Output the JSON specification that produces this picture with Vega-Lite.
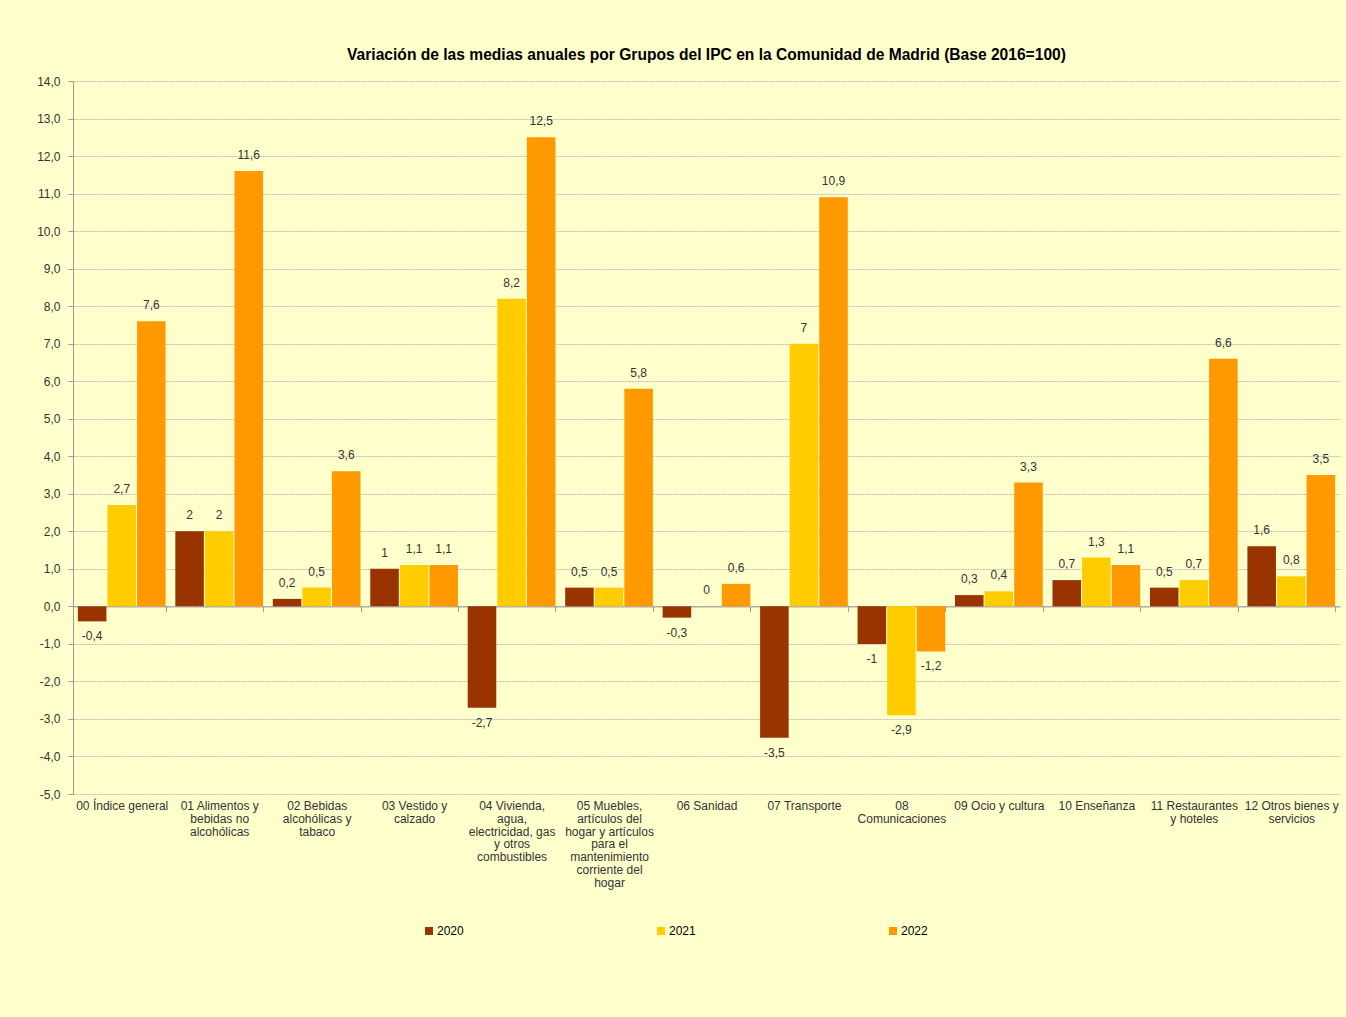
{
  "$schema": "https://vega.github.io/schema/vega-lite/v6.json",
  "autosize": {"type": "none"},
  "width": 1267,
  "height": 713,
  "padding": {"left": 73, "top": 81, "right": 6, "bottom": 223},
  "background": "#FFFFCC",
  "config": {
    "locale": {"number": {"decimal": ",", "thousands": ".", "grouping": [3], "currency": ["", " €"], "minus": "-"}},
    "font": "Liberation Sans",
    "view": {"stroke": null},
    "axis": {"labelFont": "Liberation Sans", "labelColor": "#333333", "labelFontSize": 12}
  },
  "title": {
    "text": "Variación de las medias anuales por Grupos del IPC en la Comunidad de Madrid (Base 2016=100)",
    "fontSize": 15.6,
    "fontWeight": "bold",
    "font": "Liberation Sans",
    "color": "#000000",
    "anchor": "middle",
    "offset": 11
  },
  "data": {
    "values": [
      {"grupo": "00 Índice general", "anio": "2020", "valor": -0.4},
      {"grupo": "00 Índice general", "anio": "2021", "valor": 2.7},
      {"grupo": "00 Índice general", "anio": "2022", "valor": 7.6},
      {"grupo": "01 Alimentos y bebidas no alcohólicas", "anio": "2020", "valor": 2},
      {"grupo": "01 Alimentos y bebidas no alcohólicas", "anio": "2021", "valor": 2},
      {"grupo": "01 Alimentos y bebidas no alcohólicas", "anio": "2022", "valor": 11.6},
      {"grupo": "02 Bebidas alcohólicas y tabaco", "anio": "2020", "valor": 0.2},
      {"grupo": "02 Bebidas alcohólicas y tabaco", "anio": "2021", "valor": 0.5},
      {"grupo": "02 Bebidas alcohólicas y tabaco", "anio": "2022", "valor": 3.6},
      {"grupo": "03 Vestido y calzado", "anio": "2020", "valor": 1},
      {"grupo": "03 Vestido y calzado", "anio": "2021", "valor": 1.1},
      {"grupo": "03 Vestido y calzado", "anio": "2022", "valor": 1.1},
      {"grupo": "04 Vivienda, agua, electricidad, gas y otros combustibles", "anio": "2020", "valor": -2.7},
      {"grupo": "04 Vivienda, agua, electricidad, gas y otros combustibles", "anio": "2021", "valor": 8.2},
      {"grupo": "04 Vivienda, agua, electricidad, gas y otros combustibles", "anio": "2022", "valor": 12.5},
      {"grupo": "05 Muebles, artículos del hogar y artículos para el mantenimiento corriente del hogar", "anio": "2020", "valor": 0.5},
      {"grupo": "05 Muebles, artículos del hogar y artículos para el mantenimiento corriente del hogar", "anio": "2021", "valor": 0.5},
      {"grupo": "05 Muebles, artículos del hogar y artículos para el mantenimiento corriente del hogar", "anio": "2022", "valor": 5.8},
      {"grupo": "06 Sanidad", "anio": "2020", "valor": -0.3},
      {"grupo": "06 Sanidad", "anio": "2021", "valor": 0},
      {"grupo": "06 Sanidad", "anio": "2022", "valor": 0.6},
      {"grupo": "07 Transporte", "anio": "2020", "valor": -3.5},
      {"grupo": "07 Transporte", "anio": "2021", "valor": 7},
      {"grupo": "07 Transporte", "anio": "2022", "valor": 10.9},
      {"grupo": "08 Comunicaciones", "anio": "2020", "valor": -1},
      {"grupo": "08 Comunicaciones", "anio": "2021", "valor": -2.9},
      {"grupo": "08 Comunicaciones", "anio": "2022", "valor": -1.2},
      {"grupo": "09 Ocio y cultura", "anio": "2020", "valor": 0.3},
      {"grupo": "09 Ocio y cultura", "anio": "2021", "valor": 0.4},
      {"grupo": "09 Ocio y cultura", "anio": "2022", "valor": 3.3},
      {"grupo": "10 Enseñanza", "anio": "2020", "valor": 0.7},
      {"grupo": "10 Enseñanza", "anio": "2021", "valor": 1.3},
      {"grupo": "10 Enseñanza", "anio": "2022", "valor": 1.1},
      {"grupo": "11 Restaurantes y hoteles", "anio": "2020", "valor": 0.5},
      {"grupo": "11 Restaurantes y hoteles", "anio": "2021", "valor": 0.7},
      {"grupo": "11 Restaurantes y hoteles", "anio": "2022", "valor": 6.6},
      {"grupo": "12 Otros bienes y servicios", "anio": "2020", "valor": 1.6},
      {"grupo": "12 Otros bienes y servicios", "anio": "2021", "valor": 0.8},
      {"grupo": "12 Otros bienes y servicios", "anio": "2022", "valor": 3.5}
    ]
  },
  "encoding": {
    "x": {
      "field": "grupo",
      "type": "nominal",
      "sort": null,
      "title": null,
      "scale": {"paddingInner": 0.1, "paddingOuter": 0.05},
      "axis": {
        "labelAngle": 0,
        "offset": -187.6,
        "domainColor": "#9A9A9A",
        "tickColor": "#9A9A9A",
        "tickSize": 5,
        "tickBand": "extent",
        "labelPadding": 189.5,
        "labelLineHeight": 12.7,
        "labelOverlap": false,
        "labelBound": false,
        "labelLimit": 300,
        "labelExpr": "{'01 Alimentos y bebidas no alcohólicas': ['01 Alimentos y', 'bebidas no', 'alcohólicas'], '02 Bebidas alcohólicas y tabaco': ['02 Bebidas', 'alcohólicas y', 'tabaco'], '03 Vestido y calzado': ['03 Vestido y', 'calzado'], '04 Vivienda, agua, electricidad, gas y otros combustibles': ['04 Vivienda,', 'agua,', 'electricidad, gas', 'y otros', 'combustibles'], '05 Muebles, artículos del hogar y artículos para el mantenimiento corriente del hogar': ['05 Muebles,', 'artículos del', 'hogar y artículos', 'para el', 'mantenimiento', 'corriente del', 'hogar'], '08 Comunicaciones': ['08', 'Comunicaciones'], '11 Restaurantes y hoteles': ['11 Restaurantes', 'y hoteles'], '12 Otros bienes y servicios': ['12 Otros bienes y', 'servicios']}[datum.value] || datum.value"
      }
    },
    "xOffset": {"field": "anio", "type": "nominal", "scale": {"paddingInner": 0.035}},
    "y": {
      "field": "valor",
      "type": "quantitative",
      "title": null,
      "scale": {"domain": [-5, 14], "nice": false, "zero": false},
      "axis": {
        "values": [-5, -4, -3, -2, -1, 0, 1, 2, 3, 4, 5, 6, 7, 8, 9, 10, 11, 12, 13, 14],
        "format": ".1f",
        "domainColor": "#9A9A9A",
        "tickColor": "#9A9A9A",
        "tickSize": 5,
        "labelPadding": 8,
        "gridColor": "#BDBDBD",
        "gridDash": [2, 1],
        "gridWidth": 1
      }
    }
  },
  "layer": [
    {
      "mark": {"type": "bar"},
      "encoding": {
        "color": {
          "field": "anio",
          "type": "nominal",
          "title": null,
          "scale": {"domain": ["2020", "2021", "2022"], "range": ["#993300", "#FFCC00", "#FF9900"]},
          "legend": {
            "orient": "none",
            "direction": "horizontal",
            "legendX": 350,
            "legendY": 844,
            "symbolType": "square",
            "symbolSize": 64,
            "symbolStrokeWidth": 0,
            "labelFontSize": 12,
            "labelColor": "#000000",
            "labelFont": "Liberation Sans",
            "labelOffset": 2,
            "columnPadding": 191
          }
        }
      }
    },
    {
      "transform": [{"filter": "datum.valor >= 0"}],
      "mark": {"type": "text", "baseline": "middle", "dy": -16, "fontSize": 12, "color": "#333333", "font": "Liberation Sans"},
      "encoding": {"text": {"field": "valor", "type": "quantitative", "format": ".1~f"}}
    },
    {
      "transform": [{"filter": "datum.valor < 0"}],
      "mark": {"type": "text", "baseline": "middle", "dy": 15, "fontSize": 12, "color": "#333333", "font": "Liberation Sans"},
      "encoding": {"text": {"field": "valor", "type": "quantitative", "format": ".1~f"}}
    }
  ]
}
